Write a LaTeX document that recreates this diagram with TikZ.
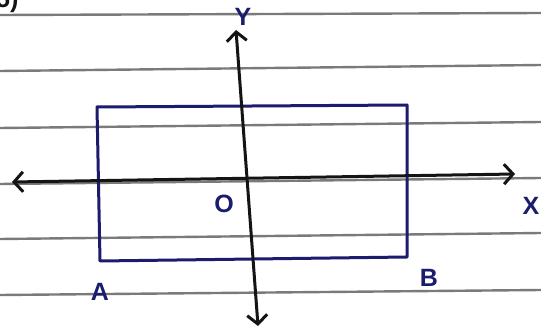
\documentclass[tikz,border=0pt]{standalone}
\usepackage{fontspec}
\setmainfont{Liberation Sans}
\usetikzlibrary{arrows.meta}
\definecolor{ink}{HTML}{1C1C6E}
\definecolor{pen}{HTML}{141414}
\definecolor{ruled}{HTML}{7A7A7A}
\tikzset{
  paperline/.style={draw=ruled, line width=2.4pt},
  boxline/.style={draw=ink, line width=3pt, line join=round},
  handbarb/.tip={Straight Barb[length=9pt,width=20pt,line width=3pt]},
  axisline/.style={draw=pen, line width=3pt, {handbarb}-{handbarb}},
  lbl/.style={text=ink, font=\bfseries\fontsize{25}{25}\selectfont, inner sep=0pt}
}
\begin{document}
\begin{tikzpicture}[x=1pt,y=-1pt]
\useasboundingbox[fill=white] (0,0) rectangle (541,334);
\clip (0,0) rectangle (541,334);
% ruled paper lines
\draw[paperline] (0,15) -- (541,13);
\draw[paperline] (0,71) -- (541,65);
\draw[paperline] (0,128) -- (541,122);
\draw[paperline] (0,184) -- (541,178);
\draw[paperline] (0,239) -- (541,233);
\draw[paperline] (0,295) -- (541,290);
% partial question number
\node[lbl, text=pen, anchor=base west] (qn) at (-4,8) {5)};
% rectangle
\coordinate (TL) at (97,107);
\coordinate (TR) at (407,105);
\coordinate (BR) at (407,257);
\coordinate (BL) at (100,261);
\draw[boxline] (TL) -- (TR) -- (BR) -- (BL) -- cycle;
% axes
\coordinate (xl) at (12,182);
\coordinate (xr) at (515,174);
\coordinate (yt) at (236,30);
\coordinate (yb) at (258,326);
\draw[axisline] (xl) -- (xr);
\draw[axisline] (yb) -- (yt);
% labels
\node[lbl] (Y) at (243,17) {Y};
\node[lbl] (O) at (224,204) {O};
\node[lbl] (X) at (531,206) {X};
\node[lbl] (A) at (100,292) {A};
\node[lbl] (B) at (429,278) {B};
\end{tikzpicture}
\end{document}
